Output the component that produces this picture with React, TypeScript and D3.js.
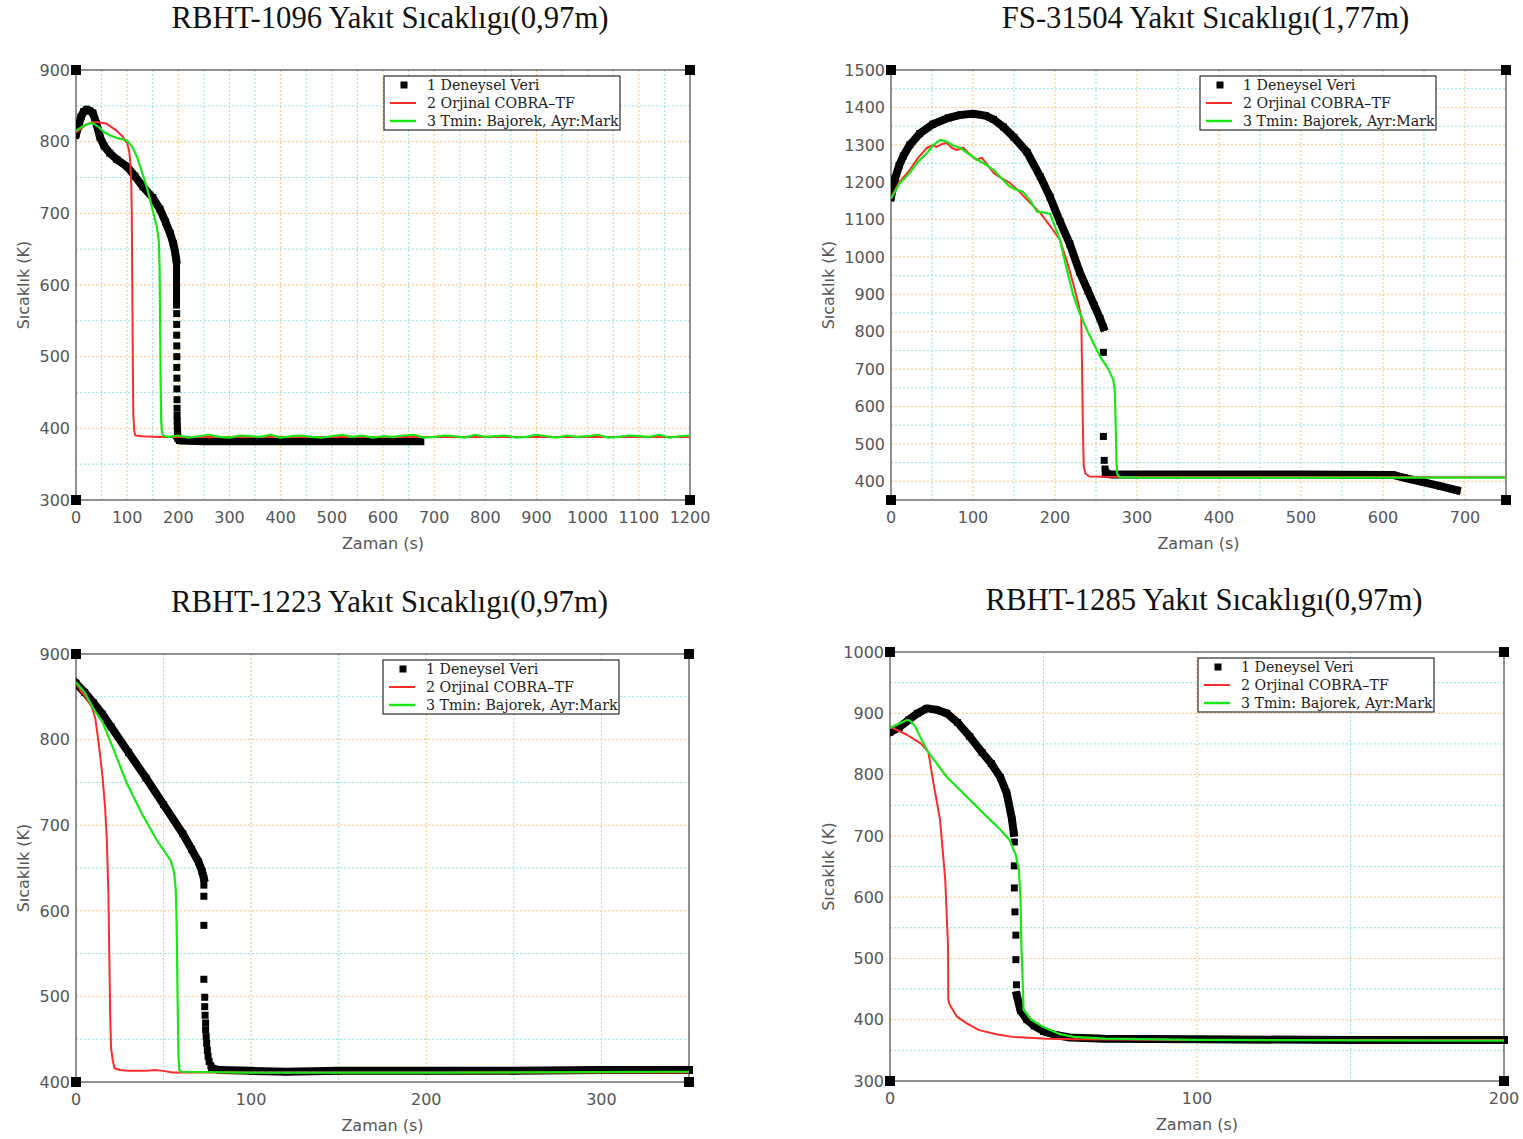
import React from 'react';
import * as d3 from 'd3';

type Pt = [number, number];

// ---------- shared labels ----------
const legendLabels = ['1 Deneysel Veri', '2 Orjinal COBRA–TF', '3 Tmin: Bajorek, Ayr:Mark'];
const xAxisLabel = 'Zaman (s)';
const yAxisLabel = 'Sıcaklık (K)';

// ---------- RBHT-1096 (0,97 m) ----------
const rbht1096ExpHead: Pt[] = [
  [0, 810], [5, 822], [10, 835], [15, 842], [21, 845], [27, 843], [33, 840], [40, 825], [47, 806],
  [55, 794], [66, 784], [80, 775], [100, 765], [115, 752], [131, 737], [150, 722], [164, 706],
  [175, 688], [184, 672], [190, 658], [194, 645], [196, 635],
];
const rbht1096ExpDrop: Pt[] = [
  [196.5, 628], [196.5, 620], [196.5, 612], [196.5, 604], [196.5, 596], [196.5, 588], [196.5, 580],
  [196.5, 572], [196.8, 560], [196.8, 545], [196.8, 530], [197, 515], [197, 500], [197, 485],
  [197.2, 470], [197.2, 455], [197.4, 440], [197.5, 428], [197.6, 418], [197.8, 410], [198, 403],
  [198.2, 397], [198.5, 392], [199, 388],
];
const rbht1096ExpTail: Pt[] = [
  [199, 386], [202, 383], [250, 382], [300, 382], [400, 382], [500, 382], [600, 382], [673, 382],
];
const rbht1096Cobra: Pt[] = [
  [0, 813], [10, 818], [20, 824], [33, 827], [45, 827], [60, 825], [70, 820], [80, 815], [90, 808],
  [100, 798], [104, 786], [106, 772], [108, 742], [109, 700], [110, 600], [111, 500], [112, 420],
  [114, 396], [116, 390], [130, 389], [160, 388], [200, 388], [400, 388], [700, 388], [1000, 388],
  [1200, 388],
];
const rbht1096TminHead: Pt[] = [
  [0, 815], [10, 820], [20, 824], [33, 826], [45, 820], [55, 813], [66, 809], [80, 805], [99, 802],
  [110, 793], [119, 779], [128, 760], [138, 737], [148, 710], [158, 681], [162, 660], [163.5, 620],
  [164.5, 540], [165.5, 460], [166.5, 410], [168, 395], [170, 390], [180, 388],
];
const rbht1096TminTailValues = [
  388, 390, 387, 389, 391, 388, 387, 390, 389, 388, 391, 387, 389, 390, 388, 387, 389, 391, 388, 390,
  387, 389, 388, 390, 391, 387, 388, 390, 389, 387, 391, 388, 389, 390, 387, 388, 391, 389, 387, 390,
  388, 389, 391, 387, 388, 390, 389, 388, 391, 387, 389, 390,
];
const rbht1096TminTailTimes = d3.range(180, 1201, 20);

// ---------- FS-31504 (1,77 m) ----------
const fs31504ExpHead: Pt[] = [
  [0, 1160], [5, 1210], [10, 1245], [15, 1270], [23, 1300], [35, 1330], [51, 1355], [70, 1372],
  [85, 1380], [100, 1383], [115, 1378], [125, 1368], [137, 1348], [150, 1320], [166, 1280],
  [182, 1215], [194, 1160], [206, 1095], [218, 1035], [230, 960], [240, 910], [248, 870], [255, 835],
  [259, 812],
];
const fs31504ExpDrop: Pt[] = [[259, 745], [259, 520], [260, 456], [261, 433], [262, 425]];
const fs31504ExpTail: Pt[] = [
  [262, 420], [270, 418], [300, 418], [400, 418], [500, 418], [612, 417], [625, 410], [650, 397],
  [670, 387], [690, 376],
];
const fs31504Cobra: Pt[] = [
  [0, 1158], [10, 1200], [23, 1233], [33, 1265], [44, 1292], [50, 1298], [56, 1295], [62, 1302],
  [68, 1305], [74, 1292], [80, 1286], [88, 1292], [96, 1275], [104, 1260], [111, 1265], [118, 1245],
  [125, 1225], [135, 1210], [145, 1198], [155, 1178], [166, 1153], [182, 1118], [195, 1080],
  [206, 1046], [215, 985], [222, 930], [229, 870], [232, 840], [233, 700], [234, 550], [235, 440],
  [237, 421], [242, 413], [260, 412], [750, 411],
];
const fs31504Tmin: Pt[] = [
  [0, 1156], [10, 1195], [23, 1225], [33, 1255], [44, 1278], [52, 1300], [60, 1313], [68, 1308],
  [76, 1298], [84, 1292], [95, 1275], [105, 1260], [115, 1248], [125, 1233], [135, 1210],
  [145, 1188], [153, 1180], [161, 1174], [170, 1150], [178, 1121], [190, 1118], [194, 1115],
  [206, 1046], [214, 970], [222, 900], [230, 850], [240, 800], [255, 734], [265, 700], [271, 672],
  [273, 640], [274, 550], [275, 450], [276, 418], [279, 411], [300, 410], [750, 410],
];

// ---------- RBHT-1223 (0,97 m) ----------
const rbht1223ExpHead: Pt[] = [
  [0, 866], [5, 855], [10, 843], [15, 830], [20, 815], [30, 785], [40, 755], [50, 724], [61, 690],
  [66, 672], [70, 657], [72, 646], [73, 638],
];
const rbht1223ExpDrop: Pt[] = [
  [73, 630], [73, 617], [73, 583], [73, 520], [73.5, 499], [73.5, 488], [73.7, 478], [74, 469],
  [74, 461], [74.3, 453], [74.6, 445], [75, 437], [75.4, 430], [76, 424], [77, 419],
];
const rbht1223ExpTail: Pt[] = [
  [78, 416], [82, 414], [100, 413], [120, 412], [150, 413], [200, 413], [250, 413], [300, 414],
  [350, 414],
];
const rbht1223Cobra: Pt[] = [
  [0, 866], [3, 856], [6, 848], [9, 838], [11, 825], [13, 795], [15, 760], [16.6, 721], [17.6, 683],
  [18.5, 620], [19, 550], [19.5, 480], [20, 440], [21, 425], [22, 416], [25, 414], [30, 413],
  [40, 413], [45, 414], [50, 413], [55, 411], [100, 411], [350, 411],
];
const rbht1223Tmin: Pt[] = [
  [0, 867], [5, 855], [10, 836], [15, 821], [21, 791], [29, 749], [38, 712], [46, 683], [50, 671],
  [54, 659], [56, 645], [57, 624], [57.5, 580], [58, 500], [58.5, 430], [59, 414], [60, 412],
  [100, 411], [200, 411], [350, 412],
];

// ---------- RBHT-1285 (0,97 m) ----------
const rbht1285ExpHead: Pt[] = [
  [0, 869], [3, 877], [6, 889], [9, 900], [12, 908], [15, 906], [18.5, 900], [22, 885], [26, 862],
  [30, 836], [33, 818], [36, 795], [38, 770], [39.7, 728], [40.3, 705],
];
const rbht1285ExpDrop: Pt[] = [
  [40.5, 690], [40.5, 651], [40.5, 615], [40.7, 576], [41, 538], [41, 498], [41.2, 457],
];
const rbht1285ExpTail: Pt[] = [
  [41.3, 440], [42.5, 415], [44.6, 400], [47, 390], [50, 381], [54, 375], [58.6, 371], [70, 369],
  [100, 368], [150, 367], [200, 367],
];
const rbht1285Cobra: Pt[] = [
  [0, 878], [5.5, 865], [10, 851], [12.5, 837], [14, 791], [16.3, 726], [18, 628], [18.9, 520],
  [19, 432], [19.5, 424], [21.8, 405], [25, 394], [29, 383], [35, 376], [40, 372], [51, 369],
  [60, 368], [100, 367], [200, 367],
];
const rbht1285Tmin: Pt[] = [
  [0, 876], [5.5, 889], [6.5, 888], [8, 880], [12, 840], [18.5, 796], [26, 759], [31.6, 731],
  [36, 710], [39, 693], [41, 668], [42, 644], [42.5, 600], [42.8, 520], [43.2, 465], [43.5, 416],
  [46, 400], [50, 388], [55, 377], [60, 372], [70, 369], [100, 367], [200, 366],
];

// ---------- panel layout ----------
interface PanelCfg {
  title: string;
  left: number; right: number; top: number; bottom: number;
  xDomain: [number, number]; yDomain: [number, number];
  xTicks: number[]; yTicks: number[];
  minorStep: number;
  yLabelGap: number;
  expLines: Pt[][];
  expDots: Pt[];
  cobra: Pt[];
  tmin: Pt[];
}

const panels: PanelCfg[] = [
  {
    title: 'RBHT-1096 Yakıt Sıcaklıgı(0,97m)',
    left: 76, right: 690, top: 70, bottom: 500,
    xDomain: [0, 1200], yDomain: [300, 900],
    xTicks: d3.range(0, 1201, 100), yTicks: d3.range(300, 901, 100),
    minorStep: 50, yLabelGap: 47,
    expLines: [rbht1096ExpHead, rbht1096ExpTail],
    expDots: rbht1096ExpDrop,
    cobra: rbht1096Cobra,
    tmin: [...rbht1096TminHead, ...rbht1096TminTailTimes.map((t, i) => [t, rbht1096TminTailValues[i]] as Pt)],
  },
  {
    title: 'FS-31504 Yakıt Sıcaklıgı(1,77m)',
    left: 891, right: 1506, top: 70, bottom: 500,
    xDomain: [0, 750], yDomain: [350, 1500],
    xTicks: d3.range(0, 701, 100), yTicks: d3.range(400, 1501, 100),
    minorStep: 50, yLabelGap: 57,
    expLines: [fs31504ExpHead, fs31504ExpTail],
    expDots: fs31504ExpDrop,
    cobra: fs31504Cobra,
    tmin: fs31504Tmin,
  },
  {
    title: 'RBHT-1223 Yakıt Sıcaklıgı(0,97m)',
    left: 76, right: 689, top: 654, bottom: 1082,
    xDomain: [0, 350], yDomain: [400, 900],
    xTicks: [0, 100, 200, 300], yTicks: d3.range(400, 901, 100),
    minorStep: 50, yLabelGap: 47,
    expLines: [rbht1223ExpHead, rbht1223ExpTail],
    expDots: rbht1223ExpDrop,
    cobra: rbht1223Cobra,
    tmin: rbht1223Tmin,
  },
  {
    title: 'RBHT-1285 Yakıt Sıcaklıgı(0,97m)',
    left: 890, right: 1504, top: 652, bottom: 1081,
    xDomain: [0, 200], yDomain: [300, 1000],
    xTicks: [0, 100, 200], yTicks: d3.range(300, 1001, 100),
    minorStep: 50, yLabelGap: 56,
    expLines: [rbht1285ExpHead, rbht1285ExpTail],
    expDots: rbht1285ExpDrop,
    cobra: rbht1285Cobra,
    tmin: rbht1285Tmin,
  },
];

const RED = '#ff2a2a';
const GREEN = '#18e818';
const MAJOR_GRID = '#ffc37a';
const MINOR_GRID = '#8fe3e3';
const FRAME = '#6c6c6c';
const TICK_TEXT = '#555';
const SANS = '"DejaVu Sans", sans-serif';

function Panel({ cfg, idx }: { cfg: PanelCfg; idx: number }) {
  const x = d3.scaleLinear().domain(cfg.xDomain).range([cfg.left, cfg.right]);
  const y = d3.scaleLinear().domain(cfg.yDomain).range([cfg.bottom, cfg.top]);
  const line = d3.line<Pt>().x((d) => x(d[0])).y((d) => y(d[1]));

  const isMajor = (v: number) => Math.abs(v / 100 - Math.round(v / 100)) < 1e-6;
  const gridX = d3.range(cfg.xDomain[0] + cfg.minorStep, cfg.xDomain[1] - 1e-6, cfg.minorStep)
    .filter((v) => v > cfg.xDomain[0] && v < cfg.xDomain[1]);
  const firstY = Math.ceil((cfg.yDomain[0] + 1) / cfg.minorStep) * cfg.minorStep;
  const gridY = d3.range(firstY, cfg.yDomain[1] - 1e-6, cfg.minorStep);

  const clipId = `plot-clip-${idx}`;
  const cx = (cfg.left + cfg.right) / 2;
  const cy = (cfg.top + cfg.bottom) / 2;
  const legX = cfg.right - 306;
  const legY = cfg.top + 6;
  const sq = 7;

  return (
    <g>
      <defs>
        <clipPath id={clipId}>
          <rect x={cfg.left} y={cfg.top - 6} width={cfg.right - cfg.left + 4} height={cfg.bottom - cfg.top + 6} />
        </clipPath>
      </defs>

      {/* grid: orange on hundreds, cyan on fifties */}
      {gridX.map((v) => (
        <line key={`gx${v}`} x1={x(v)} x2={x(v)} y1={cfg.top} y2={cfg.bottom}
          stroke={isMajor(v) ? MAJOR_GRID : MINOR_GRID} strokeWidth={1} strokeDasharray="2,2" />
      ))}
      {gridY.map((v) => (
        <line key={`gy${v}`} x1={cfg.left} x2={cfg.right} y1={y(v)} y2={y(v)}
          stroke={isMajor(v) ? MAJOR_GRID : MINOR_GRID} strokeWidth={1} strokeDasharray="2,2" />
      ))}

      {/* frame */}
      <rect x={cfg.left} y={cfg.top} width={cfg.right - cfg.left} height={cfg.bottom - cfg.top}
        fill="none" stroke={FRAME} strokeWidth={1.5} />

      {/* series */}
      <g clipPath={`url(#${clipId})`}>
        {cfg.expLines.map((seg, i) => (
          <path key={`el${i}`} d={line(seg) || ''} fill="none" stroke="#000" strokeWidth={8}
            strokeLinejoin="round" strokeLinecap="square" />
        ))}
        {cfg.expLines.flat().concat(cfg.expDots).map((d, i) => (
          <rect key={`ed${i}`} x={x(d[0]) - sq / 2} y={y(d[1]) - sq / 2} width={sq} height={sq} fill="#000" />
        ))}
        <path d={line(cfg.cobra) || ''} fill="none" stroke={RED} strokeWidth={2} strokeLinejoin="round" />
        <path d={line(cfg.tmin) || ''} fill="none" stroke={GREEN} strokeWidth={2.2} strokeLinejoin="round" />
      </g>

      {/* corner markers */}
      {[[cfg.left, cfg.top], [cfg.right, cfg.top], [cfg.left, cfg.bottom], [cfg.right, cfg.bottom]].map(([px, py], i) => (
        <rect key={`c${i}`} x={px - 5} y={py - 5} width={10} height={10} fill="#000" />
      ))}

      {/* tick labels */}
      {cfg.xTicks.map((v) => (
        <text key={`xt${v}`} x={x(v)} y={cfg.bottom + 23} textAnchor="middle"
          fontFamily={SANS} fontSize={16} fill={TICK_TEXT}>{v}</text>
      ))}
      {cfg.yTicks.map((v) => (
        <text key={`yt${v}`} x={cfg.left - 6} y={y(v)} dy="0.36em" textAnchor="end"
          fontFamily={SANS} fontSize={16} fill={TICK_TEXT}>{v}</text>
      ))}

      {/* axis titles */}
      <text x={cx} y={cfg.bottom + 49} textAnchor="middle" fontFamily={SANS} fontSize={16} fill={TICK_TEXT}>
        {xAxisLabel}
      </text>
      <text transform={`translate(${cfg.left - cfg.yLabelGap},${cy}) rotate(-90)`} textAnchor="middle"
        fontFamily={SANS} fontSize={16} fill={TICK_TEXT}>{yAxisLabel}</text>

      {/* title */}
      <text x={cx + 7} y={cfg.top - 42} textAnchor="middle" fontFamily='"Liberation Serif", serif'
        fontSize={30.7} fill="#111">{cfg.title}</text>

      {/* legend */}
      <g>
        <rect x={legX} y={legY} width={236} height={54} fill="#fff" stroke="#000" strokeWidth={1} />
        <rect x={legX + 20 - 3.5} y={legY + 9 - 3.5} width={7} height={7} fill="#000" />
        <line x1={legX + 6} x2={legX + 32} y1={legY + 27} y2={legY + 27} stroke={RED} strokeWidth={2} />
        <line x1={legX + 6} x2={legX + 32} y1={legY + 45} y2={legY + 45} stroke={GREEN} strokeWidth={2.5} />
        {legendLabels.map((s, i) => (
          <text key={s} x={legX + 43} y={legY + 9 + 18 * i} dy="0.36em" fontFamily='"DejaVu Serif", serif'
            fontSize={14.2} fill="#222">{s}</text>
        ))}
      </g>
    </g>
  );
}

export default function App() {
  return (
    <svg width={1523} height={1139} viewBox="0 0 1523 1139"
      style={{ position: 'absolute', left: 0, top: 0, background: '#fff' }}>
      <rect width={1523} height={1139} fill="#fff" />
      {panels.map((p, i) => (
        <Panel key={p.title} cfg={p} idx={i} />
      ))}
    </svg>
  );
}
